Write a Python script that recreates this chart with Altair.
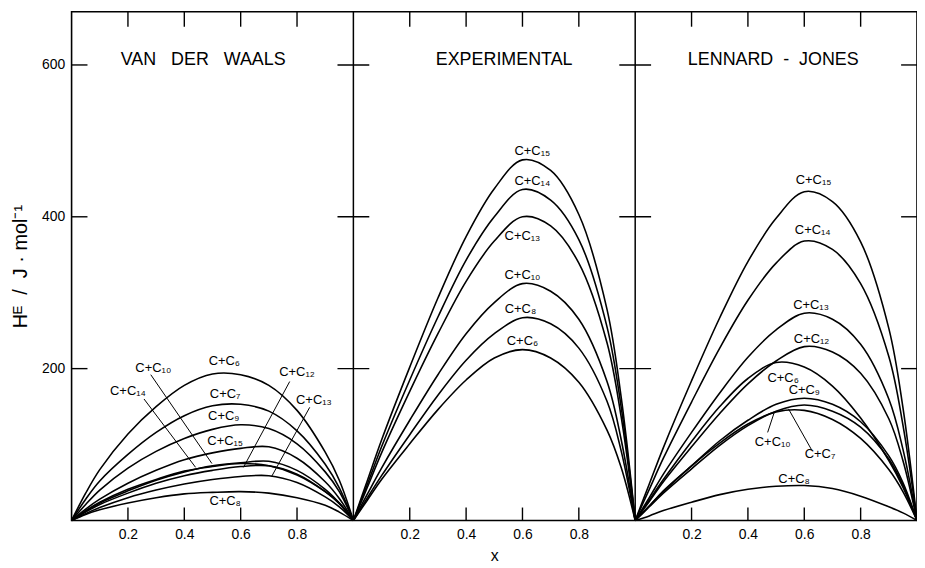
import altair as alt
import pandas as pd

# ---------------- data ----------------
X = [0, 0.05, 0.1, 0.2, 0.3, 0.4, 0.5, 0.6, 0.7, 0.8, 0.9, 0.95, 1.0]

NB = "\u00a0"
panel_titles = ["VAN" + NB * 3 + "DER" + NB * 3 + "WAALS",
                "EXPERIMENTAL",
                "LENNARD" + NB * 2 + "-" + NB * 2 + "JONES"]

vdw = {
    "6":  [0, 36, 67, 114, 150, 178, 193, 192, 178, 145, 90, 53, 0],
    "7":  [0, 28, 52, 87, 116, 138, 151, 153, 144, 118, 74, 43, 0],
    "9":  [0, 21, 40, 69, 91, 108, 120, 126, 121, 101, 64, 38, 0],
    "15": [0, 15, 28, 49, 66, 80, 89, 95, 97, 82, 51, 29, 0],
    "10": [0, 12, 23, 39, 53, 64, 72, 76, 78, 66, 41, 23, 0],
    "14": [0, 13, 24, 41, 54, 65, 71, 75, 72, 60, 38, 23, 0],
    "12": [0, 11, 21, 36, 49, 59, 66, 71, 72, 61, 38, 22, 0],
    "13": [0, 9, 17, 30, 40, 48, 54, 58, 59, 50, 31, 18, 0],
    "8":  [0, 8, 14, 23, 30, 35, 37, 38, 36, 30, 20, 11, 0],
}
experimental = {
    "15": [0, 53, 106, 202, 293, 374, 437, 475, 461, 403, 278, 163, 0],
    "14": [0, 48, 97, 185, 268, 343, 400, 436, 422, 370, 255, 150, 0],
    "13": [0, 44, 89, 170, 246, 315, 368, 400, 388, 339, 234, 137, 0],
    "10": [0, 35, 69, 132, 192, 246, 287, 312, 302, 265, 183, 107, 0],
    "8":  [0, 30, 59, 113, 165, 211, 246, 267, 259, 227, 157, 92, 0],
    "6":  [0, 27, 54, 101, 146, 185, 214, 225, 214, 182, 119, 70, 0],
}
lennard_jones = {
    "15": [0, 48, 96, 184, 267, 341, 398, 433, 420, 367, 253, 149, 0],
    "14": [0, 41, 82, 156, 227, 290, 339, 368, 357, 312, 216, 126, 0],
    "13": [0, 30, 61, 116, 168, 215, 251, 273, 265, 232, 160, 94, 0],
    "12": [0, 25, 51, 97, 141, 180, 210, 229, 222, 194, 134, 79, 0],
    "6":  [0, 27, 54, 104, 150, 187, 208, 202, 177, 135, 79, 44, 0],
    "9":  [0, 19, 39, 72, 105, 132, 153, 161, 153, 130, 85, 50, 0],
    "7":  [0, 18, 36, 68, 99, 125, 144, 152, 144, 123, 81, 47, 0],
    "10": [0, 19, 38, 72, 102, 127, 143, 145, 133, 108, 67, 38, 0],
    "8":  [0, 6, 13, 24, 34, 41, 45, 46, 42, 32, 18, 10, 0],
}

# curve labels: (panel, carbon number, x, y)
label_panel = [0, 0, 0, 0, 0, 0, 0, 0, 0,
               1, 1, 1, 1, 1, 1,
               2, 2, 2, 2, 2, 2, 2, 2, 2]
label_series = ["6", "10", "14", "7", "9", "15", "12", "13", "8",
                "15", "14", "13", "10", "8", "6",
                "15", "14", "13", "12", "6", "9", "10", "7", "8"]
label_x = [0.542, 0.29, 0.20, 0.545, 0.54, 0.545, 0.80, 0.86, 0.545,
           0.635, 0.635, 0.60, 0.60, 0.593, 0.60,
           0.633, 0.63, 0.624, 0.626, 0.525, 0.60, 0.488, 0.656, 0.564]
label_y = [210, 201, 170, 166, 137, 105, 196, 159, 26,
           486, 447, 375, 323, 279, 236,
           449, 382, 284, 239, 188, 172, 103, 88, 55]

# leader lines: (panel, x1, y1, x2, y2)
lead_panel = [0, 0, 0, 0, 2, 2]
lead_x1 = [0.281, 0.257, 0.774, 0.845, 0.47, 0.626]
lead_y1 = [192, 160, 183, 149, 116, 93]
lead_x2 = [0.498, 0.44, 0.61, 0.71, 0.494, 0.544]
lead_y2 = [75, 70, 70, 58, 143, 147]

x_tick_values = [0.2, 0.4, 0.6, 0.8]
y_tick_values = [200, 400, 600]
y_max = 670

title_x = [0.467, 0.535, 0.49]
title_y = [607, 607, 607]

y_title = "Hᴱ" + NB * 2 + "/" + NB * 2 + "J" + NB + "·" + NB + "mol⁻¹"

# ---------------- tables ----------------
SUB = str.maketrans("0123456789", "₀₁₂₃₄₅₆₇₈₉")

rows = []
for p, d in enumerate([vdw, experimental, lennard_jones]):
    for s, ys in d.items():
        for xv, yv in zip(X, ys):
            rows.append({"xp": xv + p, "y": yv, "key": f"{p}-{s}"})
curves = pd.DataFrame(rows)

labels = pd.DataFrame({
    "xp": [x + p for x, p in zip(label_x, label_panel)],
    "y": label_y,
    "label": ["C+C" + s.translate(SUB) for s in label_series],
})
leaders = pd.DataFrame({
    "xp": [x + p for x, p in zip(lead_x1, lead_panel)],
    "y": lead_y1,
    "xp2": [x + p for x, p in zip(lead_x2, lead_panel)],
    "y2": lead_y2,
})
titles = pd.DataFrame({"xp": [x + p for p, x in enumerate(title_x)], "y": title_y,
                       "title": panel_titles})
xticks = pd.DataFrame({"xp": [t + p for p in range(3) for t in x_tick_values]})
dividers = pd.DataFrame({"xp": [1, 2]})
yticks_left = pd.DataFrame({"xp": [0] * 3, "y": y_tick_values})
yticks_mid = pd.DataFrame({"xp": [1] * 3 + [2] * 3, "y": y_tick_values * 2})
yticks_right = pd.DataFrame({"xp": [3] * 3, "y": y_tick_values})

FONT = "Liberation Sans"

xs = alt.Scale(domain=[0, 3], nice=False, zero=False)
ys_ = alt.Scale(domain=[0, y_max], nice=False, zero=True)
xaxis = alt.Axis(values=[t + p for p in range(3) for t in x_tick_values],
                 labelExpr="format(datum.value % 1, '.1f')",
                 ticks=False, domain=False, grid=False, labelPadding=7,
                 title="x", titlePadding=6)
yaxis = alt.Axis(values=y_tick_values, ticks=False, domain=False, grid=False,
                 labelPadding=7, title=y_title, titlePadding=11)


def X_(f="xp:Q"):
    return alt.X(f, scale=xs, axis=xaxis)


def Y_(f="y:Q"):
    return alt.Y(f, scale=ys_, axis=yaxis)


lines = alt.Chart(curves).mark_line(interpolate="catmull-rom", color="black",
                                    strokeWidth=1.6).encode(
    x=X_(), y=Y_(), detail="key:N")

div = alt.Chart(dividers).mark_rule(color="black", strokeWidth=1.5).encode(x=X_())

bot_ticks = alt.Chart(xticks).mark_rule(color="black", strokeWidth=1.4,
                                        y2Offset=-13).encode(
    x=X_(), y=alt.Y(datum=0, scale=ys_, axis=yaxis), y2=alt.Y2(datum=0))
top_ticks = alt.Chart(xticks).mark_rule(color="black", strokeWidth=1.4,
                                        y2Offset=15).encode(
    x=X_(), y=alt.Y(datum=y_max, scale=ys_, axis=yaxis), y2=alt.Y2(datum=y_max))
lt = alt.Chart(yticks_left).mark_rule(color="black", strokeWidth=1.4,
                                      x2Offset=16).encode(
    x=X_(), x2="xp:Q", y=Y_())
mt = alt.Chart(yticks_mid).mark_rule(color="black", strokeWidth=1.4,
                                     xOffset=-16, x2Offset=16).encode(
    x=X_(), x2="xp:Q", y=Y_())
rt = alt.Chart(yticks_right).mark_rule(color="black", strokeWidth=1.4,
                                       xOffset=-16).encode(
    x=X_(), x2="xp:Q", y=Y_())

lead = alt.Chart(leaders).mark_rule(color="black", strokeWidth=1).encode(
    x=X_(), y=Y_(), x2="xp2:Q", y2="y2:Q")

lab = alt.Chart(labels).mark_text(font=FONT, fontSize=13, color="black").encode(
    x=X_(), y=Y_(), text="label:N")

ttl = alt.Chart(titles).mark_text(font=FONT, fontSize=18, color="black").encode(
    x=X_(), y=Y_(), text="title:N")

chart = alt.layer(lines, div, bot_ticks, top_ticks, lt, mt, rt, lead, lab, ttl).properties(
    width=851, height=512,
    autosize=alt.AutoSizeParams(type="none"),
    padding={"left": 64, "top": 2, "right": 0, "bottom": 44},
).configure_view(stroke="black", strokeWidth=1.6).configure_axis(
    labelFont=FONT, titleFont=FONT, labelFontSize=14, titleFontSize=20,
    titleFontWeight="normal", labelColor="black", titleColor="black",
).configure_axisX(titleFontSize=16)

chart.save("out.html", embed_options={"renderer": "svg", "actions": False})
